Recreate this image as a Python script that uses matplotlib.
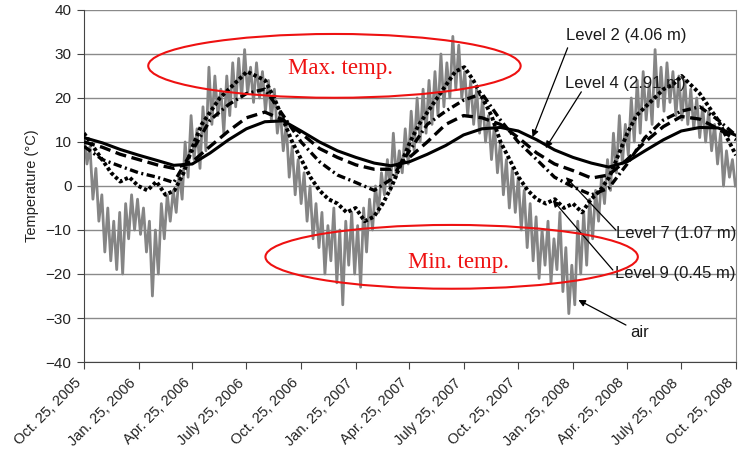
import pandas as pd
import numpy as np
import matplotlib
matplotlib.use('Agg')
import matplotlib.pyplot as plt
import matplotlib.dates as mdates
from matplotlib.patches import Ellipse

plt.rcParams['font.family'] = ['Liberation Sans', 'DejaVu Sans']
plt.rcParams['lines.scale_dashes'] = False

start = pd.Timestamp('2005-10-25')
end = pd.Timestamp('2008-10-25')

# Air temperature, one reading every 5 days
air_temp = [
    12, 5, 9, -3, 4, -8,
    -2, -15, -5, -17, -8, -19,
    -6, -20, -4, -12, -2, -10,
    -3, -11, -5, -15, -8, -25,
    -10, -20, -4, -12, -2, -8,
    -1, -6, 3, -3, 10, 2,
    16, 6, 13, 4, 18, 8,
    27, 14, 25, 16, 22, 12,
    25, 16, 28, 18, 29, 20,
    31, 21, 27, 19, 28, 20,
    26, 17, 24, 15, 22, 12,
    17, 8, 14, 2, 9, -2,
    6, -4, 3, -8, 0, -12,
    -4, -14, -6, -20, -9, -17,
    -5, -22, -10, -27, -8, -18,
    -6, -20, -9, -23, -5, -15,
    -3, -10, 0, -6, 3, -2,
    6, -1, 12, 2, 8, 3,
    13, 5, 17, 8, 20, 10,
    22, 12, 24, 14, 26, 16,
    30, 18, 28, 20, 34, 22,
    32, 20, 26, 16, 24, 14,
    22, 12, 20, 10, 16, 6,
    14, 3, 10, -2, 6, -5,
    4, -6, 2, -10, -1, -14,
    -4, -17, -7, -21, -10, -18,
    -8, -22, -12, -19, -6, -24,
    -14, -29, -18, -27, -8, -20,
    -6, -18, -3, -12, -1, -8,
    2, -4, 6, -1, 12, 3,
    16, 5, 14, 7, 20, 10,
    24, 12, 26, 15, 23, 14,
    31, 18, 27, 17, 28, 19,
    26, 16, 25, 15, 24, 14,
    22, 13, 20, 11, 18, 10,
    17, 8, 14, 5, 12, 0,
    8, 2, 6, 0,
]

# Soil temperature at the deeper levels, monthly (25th of each month)
level2 = [11, 9.8, 8.3, 7, 5.8, 4.7, 5, 7.5, 10.5, 13, 14.6, 14.8,
          12.5, 10, 8, 6.5, 5.2, 4.6, 5.5, 7.2, 9.2, 11.6, 13, 13.3,
          12.5, 10.5, 8.2, 6.5, 5.2, 4.3, 5.5, 8, 10.5, 12.5, 13.3, 13.2, 11.5]
level4 = [10, 8.8, 7.2, 6, 4.8, 4, 5.5, 9, 12.5, 15.5, 16.8, 15,
          12, 8.5, 6.5, 4.8, 3.8, 3.8, 6.5, 10, 14, 16, 15.5, 14,
          11, 7.5, 5, 3.5, 1.8, 2.5, 6, 10, 13.5, 15.8, 15.2, 13, 10.5]
level7 = [9, 6, 4.5, 3, 2, 0.8, 8, 15, 18.5, 21, 22, 16,
          10, 5.5, 2.5, 0.8, -1, 1.5, 8, 14, 17, 19.5, 21, 15,
          10, 6, 2, -0.2, -2, -0.5, 5, 11, 15, 17, 18, 15, 11.5]

# Level 9 (shallow), twice a month
level9 = [12, 9, 6, 3, 1, 2, 0, -1, 1, -2, -1, 3,
          9, 14, 17, 20, 22, 24, 26, 25, 24, 20, 15, 10,
          6, 2, -1, -3, -4, -6, -5, -8, -7, -4, 0, 5,
          10, 14, 17, 20, 23, 26, 27, 24, 20, 16, 10, 6,
          2, -1, -3, -4, -3, -5, -4, -6, -3, -1, 2, 7,
          12, 16, 18, 20, 22, 23, 25, 23, 21, 18, 15, 11, 7]

air_dates = pd.date_range(start, periods=len(air_temp), freq='5D')
monthly_dates = pd.date_range(start, periods=len(level2), freq=pd.DateOffset(months=1))
level9_dates = start + pd.to_timedelta(np.linspace(0, (end - start).days, len(level9)), unit='D')

tick_dates = pd.date_range(start, periods=13, freq=pd.DateOffset(months=3))
tick_labels = ['Oct. 25, 2005', 'Jan. 25, 2006', 'Apr. 25, 2006', 'July 25, 2006',
               'Oct. 25, 2006', 'Jan. 25, 2007', 'Apr. 25, 2007', 'July 25, 2007',
               'Oct. 25, 2007', 'Jan. 25, 2008', 'Apr. 25, 2008', 'July 25, 2008',
               'Oct. 25, 2008']

# Labels with arrows: text position, arrow start, arrow end
labels = [
    {"text": "Level 2 (4.06 m)", "text_at": ("2008-01-13", 34.3), "start": ("2008-01-16", 31.4), "end": ("2007-11-18", 11.1)},
    {"text": "Level 4 (2.91 m)", "text_at": ("2008-01-12", 23.2), "start": ("2008-02-08", 21.4), "end": ("2007-12-10", 8.6)},
    {"text": "Level 7 (1.07 m)", "text_at": ("2008-04-06", -10.7), "start": ("2008-04-06", -10.0), "end": ("2008-01-13", 2.0)},
    {"text": "Level 9 (0.45 m)", "text_at": ("2008-04-04", -19.8), "start": ("2008-04-01", -19.1), "end": ("2007-12-22", -3.2)},
    {"text": "air", "text_at": ("2008-04-30", -33.4), "start": ("2008-04-23", -31.6), "end": ("2008-02-03", -25.9)},
]

# Red highlight ellipses (center date, center temp, width in days, height in degrees)
highlights = [
    {"text": "Max. temp.", "center": ("2006-12-20", 27.3), "text_at": ("2006-12-31", 26.8), "width": 626, "height": 14.5},
    {"text": "Min. temp.", "center": ("2007-07-05", -16.1), "text_at": ("2007-07-16", -17.3), "width": 626, "height": 14.5},
]

fig = plt.figure(figsize=(7.42, 4.58), dpi=100)
ax = fig.add_axes([0.1132, 0.2096, 0.8787, 0.7686])

ax.plot(air_dates, air_temp, color='#858585', linewidth=2.0, zorder=2)
ax.plot(monthly_dates, level2, color='black', linewidth=2.2, zorder=3)
ax.plot(monthly_dates, level4, color='black', linewidth=2.4, dashes=(8, 4), zorder=3)
ax.plot(monthly_dates, level7, color='black', linewidth=2.4, dashes=(6, 2.5, 1.5, 2.5), zorder=3)
ax.plot(level9_dates, level9, color='black', linewidth=2.8, dashes=(2.5, 1.8), zorder=3)

for lab in labels:
    ax.text(pd.Timestamp(lab["text_at"][0]), lab["text_at"][1], lab["text"],
            fontsize=12, ha='left', va='center', color='#1a1a1a', zorder=5)
    ax.annotate('', xy=(pd.Timestamp(lab["end"][0]), lab["end"][1]),
                xytext=(pd.Timestamp(lab["start"][0]), lab["start"][1]),
                arrowprops=dict(arrowstyle='-|>', color='black', lw=0.9,
                                mutation_scale=10, shrinkA=0, shrinkB=0),
                zorder=5)

for h in highlights:
    cx = mdates.date2num(pd.Timestamp(h["center"][0]))
    ax.add_patch(Ellipse((cx, h["center"][1]), h["width"], h["height"],
                         fill=False, edgecolor='#ee1111', linewidth=1.5, zorder=6))
    ax.text(pd.Timestamp(h["text_at"][0]), h["text_at"][1], h["text"],
            fontsize=16.5, family='Liberation Serif', color='#ee1111',
            ha='center', va='center', zorder=6)

ax.set_xlim(start, end)
ax.set_ylim(-40, 40)
ax.set_yticks(range(-40, 41, 10))
ax.set_xticks(tick_dates)
ax.set_xticklabels(tick_labels, rotation=45, ha='right', va='top', fontsize=10.5)

ax.yaxis.grid(True, color='#8a8a8a', linewidth=1)
ax.set_axisbelow(True)
ax.tick_params(axis='both', direction='out', length=5, color='#444444', labelcolor='#222222')
ax.tick_params(axis='y', labelsize=11, pad=4)
ax.tick_params(axis='x', pad=5)
ax.spines['top'].set_visible(False)
ax.spines['right'].set_color('#8a8a8a')
ax.spines['left'].set_color('#444444')
ax.spines['bottom'].set_color('#444444')
ax.set_ylabel('Temperature (°C)', fontsize=10.5, color='#222222', labelpad=5)

fig.savefig('out.png', dpi=100)
